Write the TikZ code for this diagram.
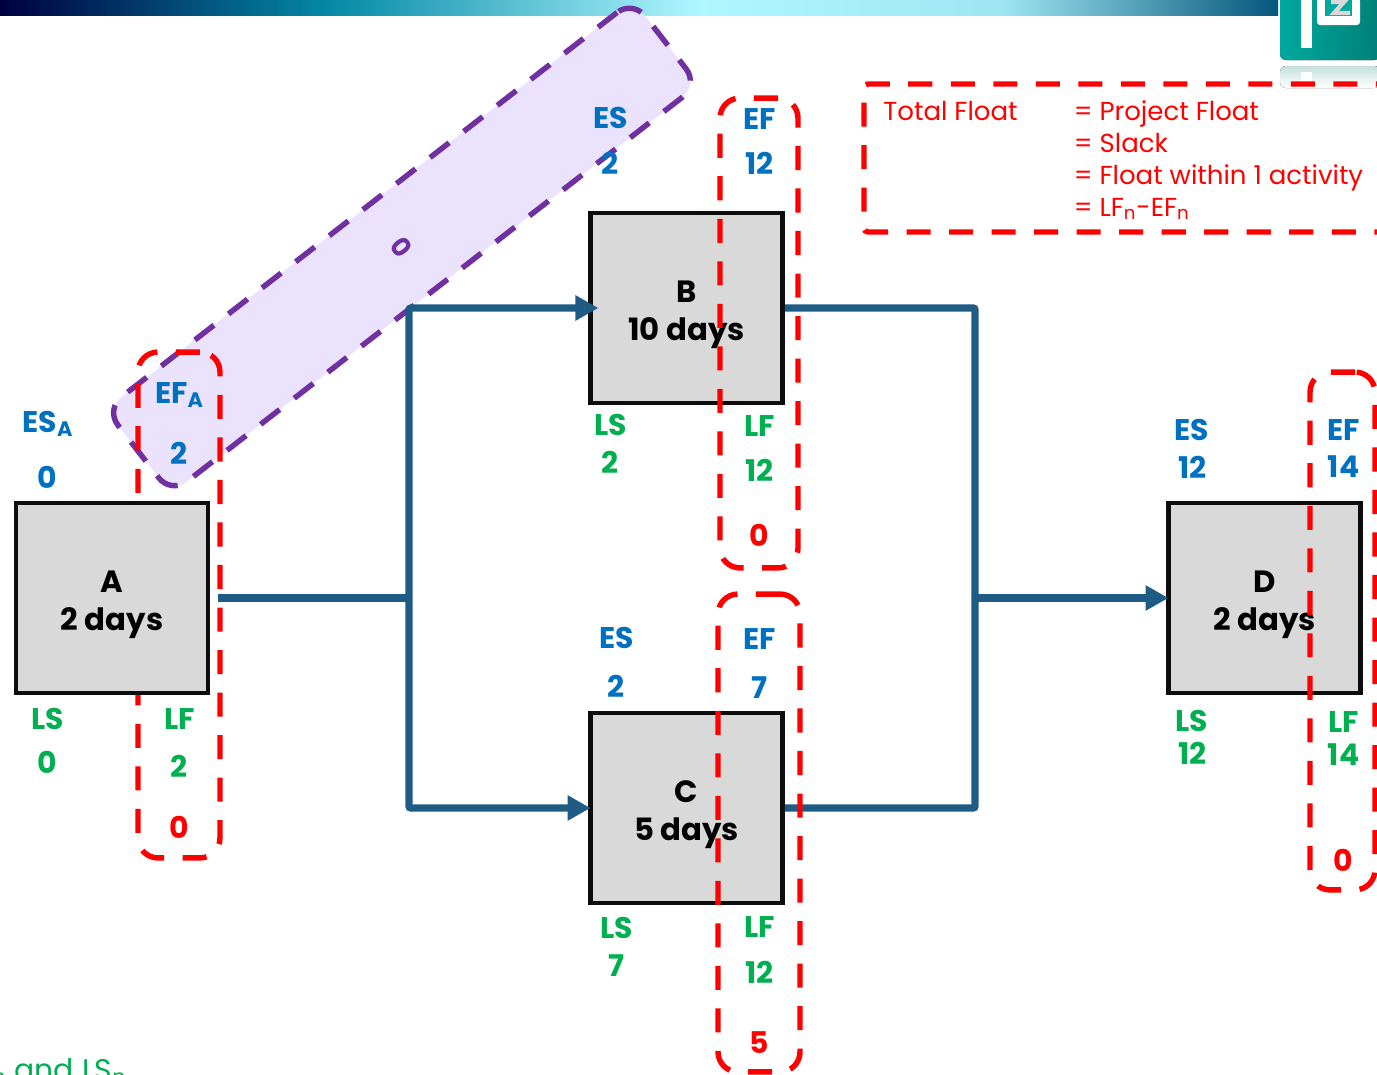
\documentclass[tikz,border=0pt]{standalone}
\usepackage{fontspec}
\setmainfont{Poppins}
\usetikzlibrary{arrows.meta,positioning}
\definecolor{flowblue}{HTML}{1F5C85}
\definecolor{esblue}{HTML}{0070C0}
\definecolor{lsgreen}{HTML}{00B050}
\definecolor{floatpurple}{HTML}{7030A0}
\definecolor{lavender}{HTML}{EBE3FD}
\definecolor{boxgrey}{HTML}{D9D9D9}
\definecolor{barnavy}{HTML}{00003F}
\definecolor{barteal}{HTML}{048AA5}
\definecolor{barpale}{HTML}{B0F6FF}
\definecolor{bardark}{HTML}{05577C}
\definecolor{logolight}{HTML}{00A99D}
\definecolor{logodark}{HTML}{007F78}
\definecolor{logoshade}{HTML}{C4E0DD}
\newcommand{\tasklines}[2]{\rule{0pt}{20pt}#1\\#2}
\begin{document}
\begin{tikzpicture}[x=.02cm,y=-.02cm,
lbl/.style={font=\fontsize{17}{20}\selectfont\bfseries,inner sep=0pt},
early/.style={lbl,text=esblue},
late/.style={lbl,text=lsgreen},
slack/.style={lbl,text=red},
task/.style={draw=black!95,line width=2.6pt,fill=boxgrey,minimum width=3.84cm,minimum height=3.8cm,align=center,font=\fontsize{17.5}{21.6}\selectfont\bfseries,inner sep=0pt},
floatbox/.style={draw=red,line width=3.1pt,rounded corners=.4cm,dash pattern=on 13.7pt off 10.5pt,inner sep=0pt},
flow/.style={draw=flowblue,line width=4.2pt},
head/.style={-{Triangle[length=.46cm,width=.48cm]},shorten >=-1.3pt},
note/.style={text=red,font=\fontsize{14.8}{18.2}\selectfont,inner sep=0pt,align=left}]
\useasboundingbox (0,0) rectangle (1377,1075);
% top band and logo
\shade[left color=barnavy,right color=barteal] (0,0) rectangle (330,15);
\shade[left color=barteal,right color=barpale] (330,0) rectangle (700,15);
\shade[left color=barpale,right color=barpale!90!bardark] (700,0) rectangle (1000,15);
\shade[left color=barpale!90!bardark,right color=bardark] (1000,0) rectangle (1278,15);
\fill[left color=logolight,right color=logodark,rounded corners=.12cm] (1280,-10) rectangle (1380,60);
\fill[white] (1301,-2) rectangle (1312,48);
\fill[white,rounded corners=.06cm] (1317,-2) rectangle (1360,25);
\fill[logolight] (1325,-2) rectangle (1352,16);
\draw[white!85!black,line width=2.4pt] (1331,2) -- (1344,2) -- (1334,13) -- (1350,13);
\fill[top color=logoshade,bottom color=white,rounded corners=.12cm] (1280,66) rectangle (1380,88);
\fill[white] (1301,72) rectangle (1312,88);
% critical path float
\node[rotate=37.8,draw=floatpurple,fill=lavender,line width=3.1pt,rounded corners=.4cm,dash pattern=on 13.7pt off 10.5pt,minimum width=13.35cm,minimum height=2.14cm,inner sep=0pt] (pathfloat) at (402,247) {};
\node[rotate=-52.2,text=floatpurple,font=\fontsize{15}{18}\selectfont\bfseries,inner sep=0pt] (pathzero) at (pathfloat.center) {0};
% float around A sits behind the box
\node[floatbox,minimum width=1.64cm,minimum height=10.12cm] (floata) at (179,605) {};
\node[task] (boxa) at (112,598) {\tasklines{A}{2 days}};
\node[task] (boxb) at (686.5,308) {\tasklines{B}{10 days}};
\node[task] (boxc) at (686.5,808) {\tasklines{C}{5 days}};
\node[task] (boxd) at (1264.5,598) {\tasklines{D}{2 days}};
% junctions
\coordinate (splitleft) at (409,598);
\coordinate (joinright) at (975,598);
\draw[flow,shorten <=4.5pt] (boxa.east) -- (splitleft);
\draw[flow,head,shorten >=-5.8pt,rounded corners=.04cm] (splitleft) |- (boxb.west);
\draw[flow,head,rounded corners=.04cm] (splitleft) |- (boxc.west);
\draw[flow,rounded corners=.04cm] (boxb.east) -| (joinright);
\draw[flow,rounded corners=.04cm] (boxc.east) -| (joinright);
\draw[flow,head] (joinright) -- (boxd.west);
% A
\node[early] (esa) at (48,424) {ES\textsubscript{A}};
\node[early] (esavalue) at (47.5,477) {0};
\node[early] (efa) at (179.5,395) {EF\textsubscript{A}};
\node[early] (efavalue) at (179,453) {2};
\node[late] (lsa) at (47.5,719) {LS};
\node[late] (lsavalue) at (47.5,762) {0};
\node[late] (lfa) at (179.5,719) {LF};
\node[late] (lfavalue) at (179,766) {2};
\node[slack] (slacka) at (179,827) {0};
% B
\node[early] (esb) at (610.5,118) {ES};
\node[early] (esbvalue) at (610,163) {2};
\node[early] (efb) at (759.5,119) {EF};
\node[early] (efbvalue) at (759.5,163) {12};
\node[late] (lsb) at (610.5,425) {LS};
\node[late] (lsbvalue) at (610,462) {2};
\node[late] (lfb) at (759.5,426) {LF};
\node[late] (lfbvalue) at (759.5,470) {12};
\node[slack] (slackb) at (759,535) {0};
% C
\node[early] (esc) at (616.5,638) {ES};
\node[early] (escvalue) at (616,686) {2};
\node[early] (efc) at (759.5,639) {EF};
\node[early] (efcvalue) at (759,688) {7};
\node[late] (lsc) at (616.5,928) {LS};
\node[late] (lscvalue) at (616,966) {7};
\node[late] (lfc) at (759.5,927) {LF};
\node[late] (lfcvalue) at (759.5,972) {12};
\node[slack] (slackc) at (759,1043) {5};
% D
\node[early] (esd) at (1192,430) {ES};
\node[early] (esdvalue) at (1192.5,467) {12};
\node[early] (efd) at (1343.5,430) {EF};
\node[early] (efdvalue) at (1343.5,467) {14};
\node[late] (lsd) at (1192,721) {LS};
\node[late] (lsdvalue) at (1192.5,753) {12};
\node[late] (lfd) at (1343.5,722) {LF};
\node[late] (lfdvalue) at (1343.5,755) {14};
\node[slack] (slackd) at (1343,860) {0};
% floats drawn over the boxes
\node[floatbox,minimum width=1.56cm,minimum height=9.4cm] (floatb) at (759,333) {};
\node[floatbox,minimum width=1.64cm,minimum height=9.56cm] (floatc) at (759,833) {};
\node[floatbox,minimum width=1.3cm,minimum height=10.36cm] (floatd) at (1342.5,631) {};
% definition
\draw[red,line width=3.1pt,dash pattern=on 13.7pt off 10.5pt,rounded corners=.08cm] (1400,84) -- (864,84) -- (864,232) -- (1400,232);
\node[note,anchor=base west] (totalfloat) at (883,120) {Total Float};
\node[note,anchor=north west] (floatnames) at (1073.5,100) {= Project Float\\= Slack\\= Float within 1 activity\\= LF\textsubscript{n}-EF\textsubscript{n}};
\node[note,text=lsgreen,font=\fontsize{17}{20}\selectfont,anchor=base west] (cutnote) at (-36,1080) {LF\textsubscript{n} and LS\textsubscript{n}};
\end{tikzpicture}
\end{document}
